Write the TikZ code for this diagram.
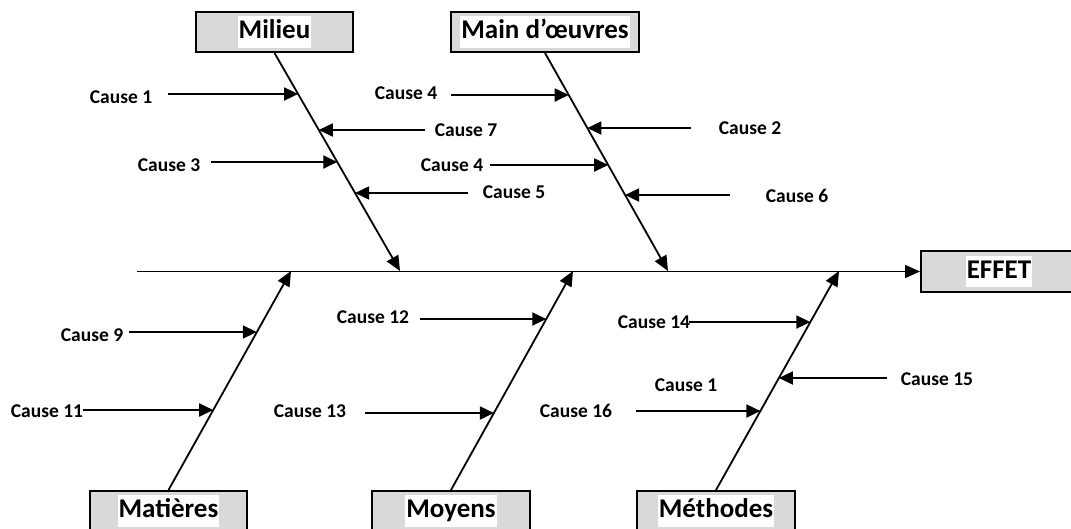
\documentclass[tikz,border=0pt]{standalone}
\usepackage{fontspec}
\setmainfont{Carlito}
\usetikzlibrary{arrows.meta,calc}
\definecolor{boxgray}{RGB}{217,217,217}
\begin{document}
\begin{tikzpicture}[x=1pt,y=-1pt,
  line width=1.8pt,
  catbox/.style={draw=black, line width=2pt, fill=boxgray, minimum height=40pt, inner sep=0pt},
  cattext/.style={fill=white, font=\fontsize{27}{30}\selectfont\bfseries,
    text height=19.5pt, text depth=6pt, inner xsep=1pt, inner ysep=3pt},
  cause/.style={font=\fontsize{19.5}{22}\selectfont\bfseries, inner sep=0pt,
    text height=12.6pt, text depth=0pt},
  bone/.style={-{Triangle[length=15pt,width=13pt]}},
  twig/.style={-{Triangle[length=14pt,width=13pt]}}
]
\useasboundingbox (0,0) rectangle (1071,528);

% category boxes
\node[catbox, minimum width=157pt] (milieu) at (274.5,32) {};
\node[cattext] (milieu-t) at (milieu) {Milieu};
\node[catbox, minimum width=188pt] (main) at (545,32) {};
\node[cattext] (main-t) at (main) {Main d’œuvres};
\node[catbox, minimum width=157pt] (mat) at (168.5,511) {};
\node[cattext] (mat-t) at (mat) {Matières};
\node[catbox, minimum width=158pt] (moy) at (451,511) {};
\node[cattext] (moy-t) at (moy) {Moyens};
\node[catbox, minimum width=158pt] (meth) at (716,511) {};
\node[cattext] (meth-t) at (meth) {Méthodes};
\node[catbox, minimum width=156pt, minimum height=41pt] (effet) at (999,271.5) {};
\node[cattext] (effet-t) at (effet) {EFFET};

% spine and bones
\coordinate (spine-start) at (137,271.5);
\draw[bone] (spine-start) -- (effet.west);
\coordinate (mil-tip) at (400,271);
\coordinate (main-tip) at (668,271);
\coordinate (mat-tip) at (291,271);
\coordinate (moy-tip) at (573,271);
\coordinate (meth-tip) at (839,271);
\draw[bone] (milieu.south) -- (mil-tip);
\draw[bone] (main.south) -- (main-tip);
\draw[bone] (mat.north) -- (mat-tip);
\draw[bone] (moy.north) -- (moy-tip);
\draw[bone] (meth.north) -- (meth-tip);

% cause labels
\node[cause] (c1) at (121,97) {Cause 1};
\node[cause] (c7) at (466,130) {Cause 7};
\node[cause] (c3) at (169,165) {Cause 3};
\node[cause] (c5) at (514,192) {Cause 5};
\node[cause] (c4a) at (406,93) {Cause 4};
\node[cause] (c2) at (750,128) {Cause 2};
\node[cause] (c4b) at (452,165) {Cause 4};
\node[cause] (c6) at (797,196) {Cause 6};
\node[cause] (c9) at (92,335) {Cause 9};
\node[cause] (c11) at (47,411) {Cause 11};
\node[cause] (c12) at (373,317) {Cause 12};
\node[cause] (c13) at (310,411) {Cause 13};
\node[cause] (c14) at (654,322) {Cause 14};
\node[cause] (c15) at (937,379) {Cause 15};
\node[cause] (c16) at (576,411) {Cause 16};
\node[cause] (c1b) at (686,385) {Cause 1};

% arrow tails
\coordinate (t1) at (168,94);
\coordinate (t7) at (425,130);
\coordinate (t3) at (211,162);
\coordinate (t5) at (468,193);
\coordinate (t4a) at (451,95);
\coordinate (t2) at (691,128);
\coordinate (t4b) at (490,165);
\coordinate (t6) at (730,195);
\coordinate (t9) at (129,332);
\coordinate (t11) at (83,410);
\coordinate (t12) at (420,319);
\coordinate (t13) at (365,413);
\coordinate (t14) at (689,322);
\coordinate (t15) at (887,378);
\coordinate (t16) at (636,411);

% arrow heads on the bones
\coordinate (h1) at ($(milieu.south)!0.188!(mil-tip)$);
\coordinate (h7) at ($(milieu.south)!0.353!(mil-tip)$);
\coordinate (h3) at ($(milieu.south)!0.500!(mil-tip)$);
\coordinate (h5) at ($(milieu.south)!0.642!(mil-tip)$);
\coordinate (h4a) at ($(main.south)!0.193!(main-tip)$);
\coordinate (h2) at ($(main.south)!0.344!(main-tip)$);
\coordinate (h4b) at ($(main.south)!0.514!(main-tip)$);
\coordinate (h6) at ($(main.south)!0.651!(main-tip)$);
\coordinate (h9) at ($(mat.north)!0.721!(mat-tip)$);
\coordinate (h11) at ($(mat.north)!0.365!(mat-tip)$);
\coordinate (h12) at ($(moy.north)!0.781!(moy-tip)$);
\coordinate (h13) at ($(moy.north)!0.352!(moy-tip)$);
\coordinate (h14) at ($(meth.north)!0.767!(meth-tip)$);
\coordinate (h15) at ($(meth.north)!0.511!(meth-tip)$);
\coordinate (h16) at ($(meth.north)!0.361!(meth-tip)$);

\foreach \k in {1,7,3,5,4a,2,4b,6,9,11,12,13,14,15,16}
  \draw[twig] (t\k) -- (t\k -| h\k);
\end{tikzpicture}
\end{document}
